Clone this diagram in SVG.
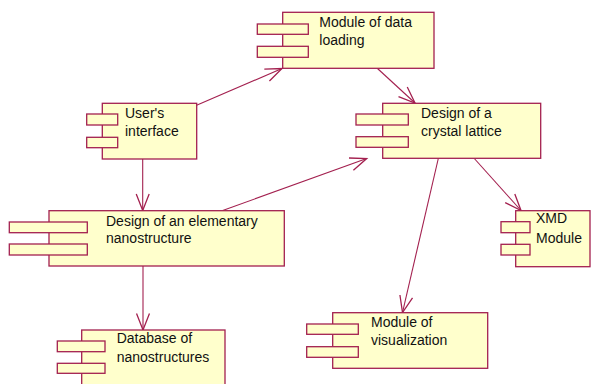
<svg xmlns="http://www.w3.org/2000/svg" width="596" height="384" viewBox="0 0 596 384">
<style>
.body{fill:#FFFFCC;stroke:#A3204F;stroke-width:1.3}
.tab{fill:#FFFFCC;stroke:#A3204F;stroke-width:1.3}
.lbl{font-family:"Liberation Sans",Arial,sans-serif;font-size:14px;fill:#111}
.conn{fill:none;stroke:#A3204F;stroke-width:1.1;marker-end:url(#open)}
</style>
<defs>
<marker id="open" markerUnits="userSpaceOnUse" markerWidth="20" markerHeight="20" viewBox="-15 -8 17 16" refX="0" refY="0" orient="auto">
<path d="M-14,-5.5 L0,0 L-14,5.5" fill="none" stroke="#A3204F" stroke-width="1.1"/>
</marker>
</defs>
<rect width="596" height="384" fill="#fff"/>
<g id="connectors">
<line class="conn" x1="196" y1="105.5" x2="282" y2="68.5"/>
<line class="conn" x1="377.5" y1="68.5" x2="415" y2="103"/>
<line class="conn" x1="142.7" y1="159" x2="142.7" y2="210.5"/>
<line class="conn" x1="222.7" y1="210.5" x2="366.7" y2="158.5"/>
<line class="conn" x1="474.3" y1="158.5" x2="521" y2="210.5"/>
<line class="conn" x1="438.3" y1="158.5" x2="402.5" y2="312.5"/>
<line class="conn" x1="143" y1="266" x2="143" y2="330"/>
</g>
<g id="data-loading">
<rect class="body" x="282.7" y="12.3" width="151.3" height="56"/>
<rect class="tab" x="257.3" y="24" width="51" height="10.3"/>
<rect class="tab" x="257.3" y="46.3" width="51" height="11"/>
<text class="lbl" x="319.3" y="26.7">Module of data</text>
<text class="lbl" x="319.3" y="44.5">loading</text>
</g>
<g id="users-interface">
<rect class="body" x="102.3" y="103.3" width="94.4" height="55.7"/>
<rect class="tab" x="86.7" y="114" width="31" height="11"/>
<rect class="tab" x="86.7" y="137.3" width="31" height="10.4"/>
<text class="lbl" x="125" y="117.7">User's</text>
<text class="lbl" x="125" y="135.7">interface</text>
</g>
<g id="crystal-lattice">
<rect class="body" x="382.7" y="103.3" width="158" height="55"/>
<rect class="tab" x="356" y="114" width="52.3" height="11"/>
<rect class="tab" x="356" y="136.7" width="52.3" height="10.6"/>
<text class="lbl" x="421" y="118.3">Design of a</text>
<text class="lbl" x="421" y="135.7">crystal lattice</text>
</g>
<g id="elementary-nanostructure">
<rect class="body" x="49" y="210.7" width="235.3" height="55.3"/>
<rect class="tab" x="9.3" y="222" width="78" height="10.7"/>
<rect class="tab" x="9.3" y="244" width="78" height="11"/>
<text class="lbl" x="106" y="225.7">Design of an elementary</text>
<text class="lbl" x="106" y="243.3">nanostructure</text>
</g>
<g id="xmd-module">
<rect class="body" x="515.7" y="210.7" width="74.3" height="56"/>
<rect class="tab" x="501" y="221.7" width="29" height="11"/>
<rect class="tab" x="501" y="244.3" width="29" height="10.7"/>
<text class="lbl" x="536" y="223.3">XMD</text>
<text class="lbl" x="536" y="242.7">Module</text>
</g>
<g id="database">
<rect class="body" x="81.7" y="330" width="143.3" height="60"/>
<rect class="tab" x="57.3" y="341" width="47.7" height="10.7"/>
<rect class="tab" x="57.3" y="363.3" width="47.7" height="10"/>
<text class="lbl" x="116.7" y="343.3">Database of</text>
<text class="lbl" x="116.7" y="361.7">nanostructures</text>
</g>
<g id="visualization">
<rect class="body" x="332.7" y="312.7" width="155" height="55.6"/>
<rect class="tab" x="306.7" y="324" width="51.6" height="10.3"/>
<rect class="tab" x="306.7" y="346.7" width="51.6" height="10.6"/>
<text class="lbl" x="371" y="327.3">Module of</text>
<text class="lbl" x="371" y="345">visualization</text>
</g>
</svg>
